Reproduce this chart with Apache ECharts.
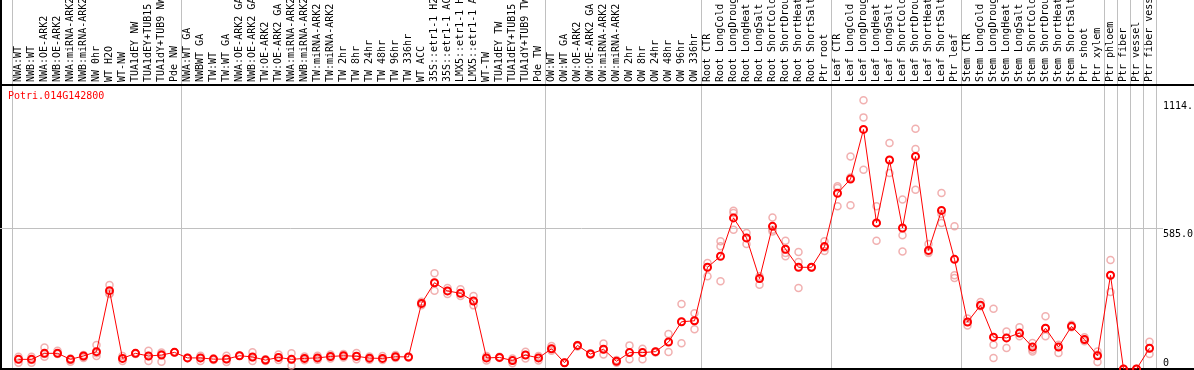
<!DOCTYPE html>
<html><head><meta charset="utf-8">
<script src="https://cdn.jsdelivr.net/npm/echarts@6/dist/echarts.min.js"></script>
<style>html,body{margin:0;padding:0;background:#fff}#c{width:1194px;height:370px}</style>
</head><body><div id="c"></div><script>
const geneId = 'Potri.014G142800';
const categories = [
 'NWA:WT','NWB:WT','NWA:OE-ARK2','NWB:OE-ARK2','NWA:miRNA-ARK2','NWB:miRNA-ARK2','NW 0hr','WT H2O','WT-NW','TUA1dEY NW','TUA1dEY+TUB15 NW','TUA1dY+TUB9 NW','Pde NW',
 'NWA:WT GA','NWBWT GA','TW:WT','TW:WT GA','NWA:OE-ARK2 GA','NWB:OE-ARK2 GA','TW:OE-ARK2','TW:OE-ARK2 GA','NWA:miRNA-ARK2 GA','NWB:miRNA-ARK2 GA','TW:miRNA-ARK2','TW:miRNA-ARK2 GA',
 'TW 2hr','TW 8hr','TW 24hr','TW 48hr','TW 96hr','TW 336hr','WT ACC','35S::etr1-1 H2O','35S::etr1-1 ACC','LMX5::etr1-1 H2O','LMX5::etr1-1 ACC','WT-TW','TUA1dEY TW','TUA1dEY+TUB15 TW','TUA1dY+TUB9 TW','Pde TW',
 'OW:WT','OW:WT GA','OW:OE-ARK2','OW:OE-ARK2 GA','OW:miRNA-ARK2','OW:miRNA-ARK2 GA','OW 2hr','OW 8hr','OW 24hr','OW 48hr','OW 96hr','OW 336hr',
 'Root CTR','Root LongCold','Root LongDrought','Root LongHeat','Root LongSalt','Root ShortCold','Root ShortDrought','Root ShortHeat','Root ShortSalt','Ptr root',
 'Leaf CTR','Leaf LongCold','Leaf LongDrought','Leaf LongHeat','Leaf LongSalt','Leaf ShortCold','Leaf ShortDrought','Leaf ShortHeat','Leaf ShortSalt','Ptr leaf',
 'Stem CTR','Stem LongCold','Stem LongDrought','Stem LongHeat','Stem LongSalt','Stem ShortCold','Stem ShortDrought','Stem ShortHeat','Stem ShortSalt','Ptr shoot','Ptr xylem',
 'Ptr phloem','Ptr fiber','Ptr vessel','Ptr fiber vessel'
];
const meanValues = [
 40,40,65,65,40,54,72,325,44,65,54,58,69,
 46,46,41,41,55,50,37,48,40,44,46,52,55,53,45,44,51,50,272,358,324,314,282,46,48,35,58,46,
 84,26,98,62,82,32,68,68,72,112,196,200,
 422,468,627,544,375,592,497,422,422,508,
 729,788,994,606,867,585,882,492,658,455,
 195,264,132,129,149,91,169,91,177,122,55,
 389,0,0,86
];
const replicateValues = [
 [51,40,26],[51,37,26],[89,62,51],[76,65,62],[44,37,30],[58,51,46],[100,65,54],[349,314,311],[54,44,33],[65,65,62],[76,54,33],[68,62,30],[69,69,69],
 [46,46,46],[55,46,33],[44,40,37],[55,40,29],[55,55,55],[69,48,33],[40,37,33],[60,48,37],[65,40,15],[52,44,36],[55,46,38],[60,52,44],
 [62,55,48],[66,53,40],[52,45,38],[54,44,37],[58,51,46],[51,50,48],[279,270,265],[397,358,325],[336,324,311],[331,314,303],[303,282,264],[54,46,35],[51,48,46],[44,35,24],[72,58,44],[54,46,35],
 [95,84,76],[26,26,26],[100,98,93],[65,62,60],[106,82,60],[37,32,26],[98,68,40],[84,68,40],[72,72,68],[145,112,71],[270,196,107],[231,200,165],
 [440,422,385],[530,509,364],[657,647,578],[564,544,519],[385,375,350],[629,578,571],[532,481,468],[485,444,336],[422,422,422],[530,503,490],
 [758,751,675],[882,795,679],[1114.6,1044,827],[675,606,532],[938,867,813],[703,555,488],[997,913,744],[519,488,481],[730,643,606],[592,389,378],
 [210,195,181],[278,264,260],[250,101,46],[156,129,87],[173,149,136],[108,80,73],[219,169,136],[101,91,66],[184,177,173],[132,122,115],[73,59,29],
 [452,389,319],[0,0,0],[0,0,0],[113,86,62]
];
const groupStarts = [0,13,41,53,63,73,84,85,86,87];
const yTickValues = [0, 585, 1114.6];
const yTickLabels = ['0', '585.0', '1114.'];
const yMax = 1531;

const FONT = 'DejaVu Sans Mono';
const repData = [];
replicateValues.forEach((reps, i) => reps.forEach(v => repData.push([categories[i], v])));

const chart = echarts.init(document.getElementById('c'), null, {renderer: 'canvas'});
chart.setOption({
  animation: false,
  backgroundColor: '#fff',
  grid: {left: 12, right: 38, top: 0, bottom: 1, containLabel: false, outerBoundsMode: 'none'},
  xAxis: {
    type: 'category', data: categories, position: 'top', offset: -85, boundaryGap: true,
    axisLine: {show: false}, axisTick: {show: false},
    axisLabel: {interval: 0, rotate: 90, margin: 3, fontFamily: FONT, fontSize: 10, color: '#000', hideOverlap: false},
    splitLine: {show: true, interval: (idx) => groupStarts.indexOf(idx) >= 0,
      lineStyle: {color: '#c0c0c0', width: 1}}
  },
  yAxis: {type: 'value', min: 0, max: yMax, show: false, splitLine: {show: false}},
  series: [
    {type: 'scatter', data: repData, symbol: 'circle', symbolSize: 7, silent: true,
     itemStyle: {color: 'rgba(0,0,0,0)', borderColor: '#ee9c9c', borderWidth: 1.5}, z: 2},
    {type: 'line', data: meanValues, symbol: 'circle', symbolSize: 7, silent: true,
     itemStyle: {color: 'rgba(0,0,0,0)', borderColor: '#ff0000', borderWidth: 2},
     lineStyle: {color: '#ff0000', width: 1}, z: 3}
  ]
});

const graphics = [];
const gy = (v) => chart.convertToPixel({yAxisIndex: 0}, v);
graphics.push({type: 'line', silent: true, z: 1, shape: {x1: 0, y1: Math.round(gy(yTickValues[1])) + 0.5, x2: 1163, y2: Math.round(gy(yTickValues[1])) + 0.5},
  style: {stroke: '#c0c0c0', lineWidth: 1}});
yTickValues.forEach((v, i) => {
  const py = gy(v);
  graphics.push({type: 'text', silent: true, x: 1163, y: i === 0 ? py - 1 : py + 1,
    style: {text: yTickLabels[i], font: '10px ' + FONT, fill: '#000', textAlign: 'left', textVerticalAlign: i === 0 ? 'bottom' : 'top'}});
});
graphics.push({type: 'rect', silent: true, shape: {x: 0, y: 0, width: 2, height: 370}, style: {fill: '#000'}});
graphics.push({type: 'rect', silent: true, shape: {x: 0, y: 84, width: 1194, height: 2}, style: {fill: '#000'}});
graphics.push({type: 'rect', silent: true, shape: {x: 0, y: 368, width: 1194, height: 2}, style: {fill: '#000'}});
graphics.push({type: 'text', silent: true, x: 8, y: 91, style: {text: geneId, font: '10px ' + FONT, fill: '#ff0000', textVerticalAlign: 'top'}});
chart.setOption({graphic: graphics});
</script></body></html>
